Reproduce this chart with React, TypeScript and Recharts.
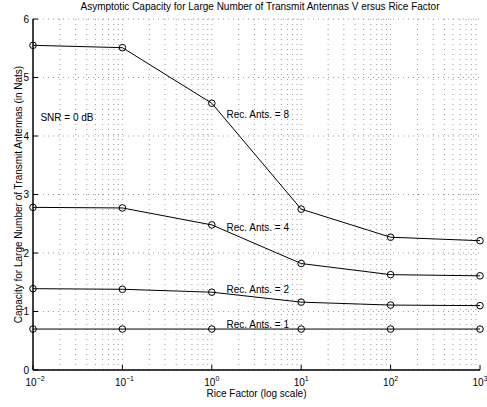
import React from "react";
import {
  LineChart,
  Line,
  XAxis,
  YAxis,
  CartesianGrid,
  ReferenceLine,
  ReferenceDot,
} from "recharts";

// Rice factor values (log axis)
const riceFactor = [0.01, 0.1, 1, 10, 100, 1000];

// capacity per number of receive antennas
const rec8 = [5.55, 5.51, 4.56, 2.75, 2.27, 2.21];
const rec4 = [2.78, 2.77, 2.48, 1.82, 1.63, 1.61];
const rec2 = [1.39, 1.38, 1.33, 1.16, 1.11, 1.1];
const rec1 = [0.7, 0.7, 0.7, 0.7, 0.7, 0.7];

const xTicks = [0.01, 0.1, 1, 10, 100, 1000];
const yTicks = [0, 1, 2, 3, 4, 5, 6];
const minorMult = [2, 3, 4, 5, 6, 7, 8, 9];

// in-plot annotations
const noteText = ["Rec. Ants. = 8", "Rec. Ants. = 4", "Rec. Ants. = 2", "Rec. Ants. = 1", "SNR = 0 dB"];
const noteX = [1.46, 1.46, 1.46, 1.46, 0.0121];
const noteY = [4.37, 2.43, 1.37, 0.77, 4.32];

const data = riceFactor.map((k, i) => ({
  k,
  r8: rec8[i],
  r4: rec4[i],
  r2: rec2[i],
  r1: rec1[i],
}));

const gridX = [
  ...xTicks.slice(1, -1),
  ...xTicks.slice(0, -1).flatMap((d) => minorMult.map((m) => d * m)),
];

const FONT = "'Liberation Sans', Arial, Helvetica, sans-serif";
const grid = { stroke: "#9a9a9a", strokeDasharray: "1 4", strokeWidth: 1 };

const BottomTick = (props: any) => {
  const { x, y, payload } = props;
  const exp = Math.round(Math.log10(payload.value));
  return (
    <g>
      <line x1={x} x2={x} y1={y} y2={y - 5} stroke="#000" />
      <text x={x - 7.5} y={y + 15.5} fontSize={10} fill="#000" fontFamily={FONT}>
        <tspan>10</tspan>
        <tspan dy={-4.5} fontSize={7}>
          {exp < 0 ? "\u2212" + Math.abs(exp) : exp}
        </tspan>
      </text>
    </g>
  );
};

const TopTick = (props: any) => {
  const { x, y } = props;
  return <line x1={x} x2={x} y1={y} y2={y + 5} stroke="#000" />;
};

const LeftTick = (props: any) => {
  const { x, y, payload } = props;
  return (
    <g>
      <line x1={x} x2={x + 5} y1={y} y2={y} stroke="#000" />
      <text x={x - 4} y={y + 3.5} fontSize={10} fill="#000" textAnchor="end" fontFamily={FONT}>
        {payload.value}
      </text>
    </g>
  );
};

const RightTick = (props: any) => {
  const { x, y } = props;
  return <line x1={x} x2={x - 5} y1={y} y2={y} stroke="#000" />;
};

const series = [
  { key: "r8" },
  { key: "r4" },
  { key: "r2" },
  { key: "r1" },
];

export default function App() {
  return (
    <div
      style={{
        position: "absolute",
        left: 0,
        top: 0,
        width: 487,
        height: 407,
        background: "#fff",
        fontFamily: FONT,
      }}
    >
      <div
        style={{
          position: "absolute",
          top: 1,
          left: 60,
          width: 400,
          textAlign: "center",
          fontSize: 10,
          whiteSpace: "nowrap",
          color: "#000",
        }}
      >
        Asymptotic Capacity for Large Number of Transmit Antennas V ersus Rice Factor
      </div>
      <LineChart
        width={487}
        height={407}
        data={data}
        margin={{ top: 19, right: 7, left: 0, bottom: 0 }}
      >
        <CartesianGrid vertical={false} {...grid} />
        {gridX.map((v) => (
          <ReferenceLine key={v} x={v} {...grid} />
        ))}
        <XAxis
          dataKey="k"
          type="number"
          scale="log"
          domain={[0.01, 1000]}
          ticks={xTicks}
          interval={0}
          height={37}
          tickSize={0}
          tickMargin={0}
          tickLine={false}
          tick={<BottomTick />}
          axisLine={{ stroke: "#000", strokeWidth: 1.5 }}
          label={{
            value: "Rice Factor (log scale)",
            position: "insideBottom",
            offset: 10.5,
            fontSize: 10,
            fill: "#000",
          }}
        />
        <XAxis
          xAxisId="top"
          orientation="top"
          type="number"
          scale="log"
          domain={[0.01, 1000]}
          ticks={xTicks}
          interval={0}
          height={0}
          tickSize={0}
          tickMargin={0}
          tickLine={false}
          tick={<TopTick />}
          axisLine={{ stroke: "#000", strokeWidth: 1.5 }}
        />
        <YAxis
          type="number"
          domain={[0, 6]}
          ticks={yTicks}
          interval={0}
          width={33}
          tickSize={0}
          tickMargin={0}
          tickLine={false}
          tick={<LeftTick />}
          axisLine={{ stroke: "#000", strokeWidth: 1.5 }}
          label={{
            content: (p: any) => {
              const vb = p.viewBox || {};
              const cy = vb.y + vb.height / 2;
              return (
                <text
                  x={18}
                  y={cy}
                  transform={`rotate(-90, 18, ${cy})`}
                  textAnchor="middle"
                  dominantBaseline="central"
                  fontSize={10}
                  fill="#000"
                  fontFamily={FONT}
                >
                  Capacity for Large Number of Transmit Antennas (in Nats)
                </text>
              );
            },
          }}
        />
        <YAxis
          yAxisId="right"
          orientation="right"
          type="number"
          domain={[0, 6]}
          ticks={yTicks}
          interval={0}
          width={0}
          tickSize={0}
          tickMargin={0}
          tickLine={false}
          tick={<RightTick />}
          axisLine={{ stroke: "#000", strokeWidth: 1.5 }}
        />
        {series.map((s) => (
          <Line
            key={s.key}
            dataKey={s.key}
            type="linear"
            stroke="#000"
            strokeWidth={1}
            dot={{ r: 3.3, fill: "none", stroke: "#000", strokeWidth: 1 }}
            activeDot={false}
            isAnimationActive={false}
          />
        ))}
        {noteText.map((t, i) => (
          <ReferenceDot
            key={t}
            x={noteX[i]}
            y={noteY[i]}
            r={0}
            shape={(p: any) => (
              <text
                x={p.cx}
                y={p.cy}
                dy="0.35em"
                fontSize={10}
                fill="#000"
                fontFamily={FONT}
              >
                {t}
              </text>
            )}
          />
        ))}
      </LineChart>
    </div>
  );
}
